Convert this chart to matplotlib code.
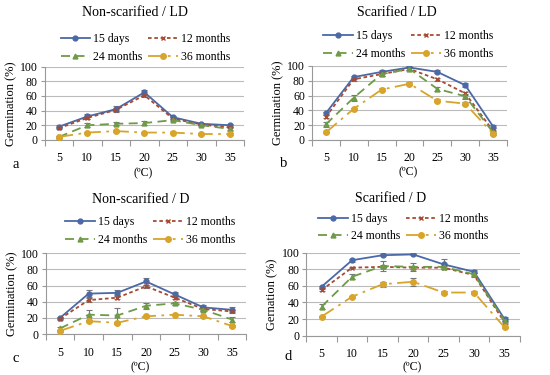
import matplotlib.pyplot as plt
import numpy as np

plt.rcParams['font.family'] = ['Liberation Serif', 'DejaVu Serif']

temps = ['5', '10', '15', '20', '25', '30', '35']
series = ['15 days', '12 months', '24 months', '36 months']

# germination (%) per panel, one list per storage time
a_vals = [[18, 32, 42, 65, 31, 22, 20],
          [16, 30, 41, 61, 29, 21, 17],
          [4, 20, 22, 23, 27, 20, 15],
          [4, 10, 12, 10, 10, 8, 8]]
a_err = [[2, 4, 4, 3, 2, 1, 2],
         [1, 2, 2, 2, 2, 1, 1],
         [1, 3, 2, 3, 1, 1, 2],
         [1, 1, 1, 1, 1, 1, 1]]

b_vals = [[36, 85, 92, 98, 92, 74, 18],
          [31, 82, 89, 96, 82, 63, 12],
          [21, 57, 89, 96, 69, 59, 10],
          [10, 42, 68, 76, 53, 49, 8]]
b_err = [[2, 2, 2, 1, 2, 3, 2],
         [2, 2, 2, 2, 2, 2, 2],
         [3, 4, 2, 2, 3, 3, 2],
         [1, 1, 2, 2, 2, 2, 1]]

c_vals = [[20, 50, 51, 65, 49, 33, 30],
          [19, 42, 45, 59, 45, 31, 28],
          [7, 24, 23, 35, 38, 30, 18],
          [4, 16, 14, 22, 24, 22, 10]]
c_err = [[1, 4, 3, 4, 3, 3, 3],
         [1, 2, 2, 2, 2, 2, 2],
         [2, 6, 9, 4, 2, 2, 3],
         [1, 1, 1, 1, 1, 1, 1]]

d_vals = [[59, 91, 97, 98, 86, 77, 20],
          [55, 82, 83, 82, 82, 73, 16],
          [35, 71, 84, 83, 83, 74, 18],
          [23, 47, 62, 65, 52, 52, 10]]
d_err = [[1, 2, 1, 1, 6, 2, 2],
         [1, 1, 2, 2, 2, 2, 2],
         [3, 3, 6, 5, 3, 2, 2],
         [1, 1, 3, 5, 2, 2, 1]]

titles = ['Non-scarified / LD', 'Scarified / LD', 'Non-scarified / D', 'Scarified / D']
ylabels = ['Germination (%)', 'Germination (%)', 'Germination (%)', 'Gernation (%)']
letters = ['a', 'b', 'c', 'd']

colors = ['#4A69A6', '#A84A32', '#6F9A48', '#D9A42A']
styles = ['-', (0, (2, 1.5)), (0, (5, 3)), (0, (8, 3, 1.5, 3))]
markers = ['o', 'x', '^', 'o']
msizes = [3.5, 3.5, 3.5, 4]

# layout in figure fraction
boxes = [[0.081, 0.627, 0.363, 0.195],
         [0.567, 0.627, 0.355, 0.197],
         [0.083, 0.109, 0.365, 0.216],
         [0.557, 0.105, 0.388, 0.221]]
title_xy = [(0.245, 0.968), (0.721, 0.968), (0.255, 0.467), (0.711, 0.472)]
legend_xy = [(0.264, 0.872), (0.742, 0.880), (0.273, 0.384), (0.733, 0.393)]
letter_xy = [(0.022, 0.56), (0.509, 0.565), (0.022, 0.045), (0.518, 0.048)]
unit_xy = [(0.26, 0.539), (0.742, 0.541), (0.255, 0.021), (0.749, 0.021)]

fig = plt.figure(figsize=(5.5, 3.75), dpi=100)

for k, (vals, errs) in enumerate([(a_vals, a_err), (b_vals, b_err), (c_vals, c_err), (d_vals, d_err)]):
    ax = fig.add_axes(boxes[k])
    x = np.arange(len(temps))
    handles = []
    for i in range(4):
        ax.errorbar(x, vals[i], yerr=errs[i], fmt='none', ecolor='#777777',
                    elinewidth=0.8, capsize=2.5, capthick=0.8, zorder=2)
        h, = ax.plot(x, vals[i], color=colors[i], linestyle=styles[i], lw=1.3,
                     marker=markers[i], ms=msizes[i], mfc=colors[i], mec=colors[i],
                     mew=1, zorder=3, label=series[i])
        handles.append(h)
    ax.set_xlim(-0.5, 6.5)
    ax.set_ylim(0, 100)
    ax.set_yticks(range(0, 101, 20))
    ax.yaxis.grid(True, color='#BBBBBB', lw=0.8)
    ax.set_axisbelow(True)
    ax.set_xticks(x)
    ax.set_xticklabels(temps)
    ax.set_xticks(np.arange(-0.5, 7, 1), minor=True)
    ax.tick_params(axis='x', which='major', length=0, pad=9, labelsize=8.5)
    ax.tick_params(axis='x', which='minor', length=4, color='#999999', width=0.8)
    ax.tick_params(axis='y', length=3, color='#999999', width=0.8, labelsize=8.5, pad=2)
    for s in ['top', 'right']:
        ax.spines[s].set_visible(False)
    for s in ['left', 'bottom']:
        ax.spines[s].set_color('#999999')
        ax.spines[s].set_linewidth(0.8)
    ax.set_ylabel(ylabels[k], fontsize=9, labelpad=2)
    fig.text(*title_xy[k], titles[k], fontsize=10, ha='center', va='center')
    fig.legend([handles[0], handles[2], handles[1], handles[3]],
               [series[0], series[2], series[1], series[3]],
               ncol=2, loc='center', bbox_to_anchor=legend_xy[k],
               bbox_transform=fig.transFigure,
               frameon=False, fontsize=8.5, handlelength=2.5,
               columnspacing=0.5, handletextpad=0.25, labelspacing=0.45,
               borderpad=0.1)
    fig.text(*letter_xy[k], letters[k], fontsize=10.5, va='center')
    fig.text(*unit_xy[k], '(ºC)', fontsize=8.5, ha='center', va='center')

fig.savefig('out.png', dpi=100)
